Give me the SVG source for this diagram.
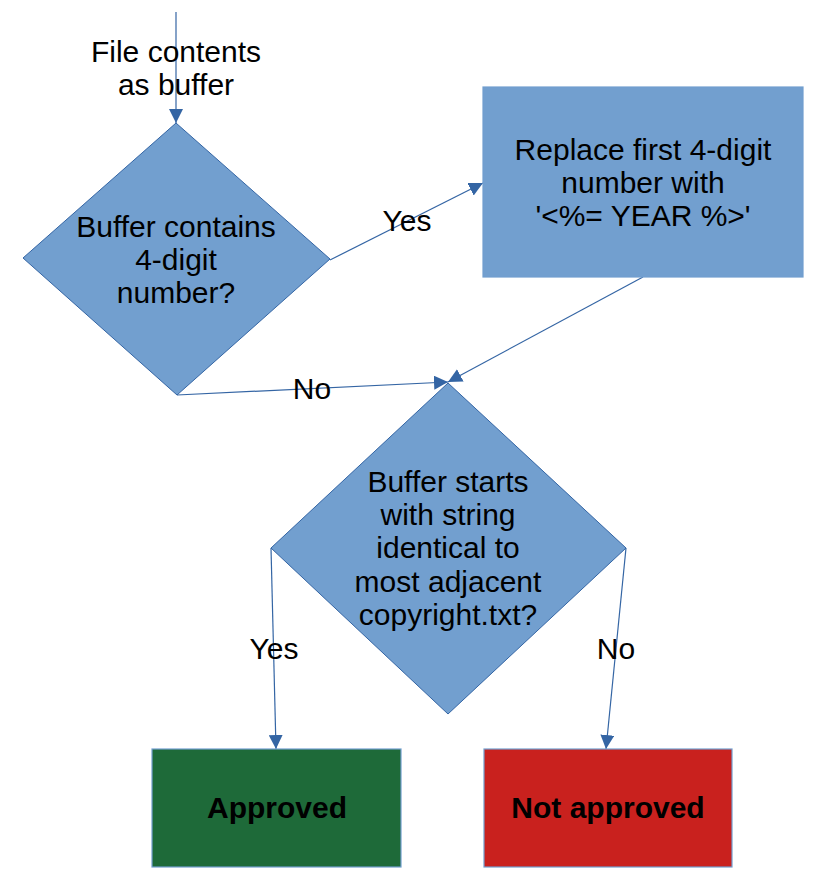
<svg xmlns="http://www.w3.org/2000/svg" width="824" height="890" viewBox="0 0 824 890">
<style>
.shape{fill:#729fcf;stroke:#3465a4;stroke-width:1}
.box{stroke:#729fcf;stroke-width:1.2}
.t{font-family:"Liberation Sans",Arial,sans-serif;font-size:30px;fill:#000;text-anchor:middle}
.b{font-weight:bold}
.edge{fill:none;stroke:#3465a4;stroke-width:1.2;marker-end:url(#arr)}
</style>
<defs>
<marker id="arr" viewBox="0 0 14 14" refX="14" refY="7" markerWidth="14" markerHeight="14" markerUnits="userSpaceOnUse" orient="auto">
<path d="M0,0 L14,7 L0,14 Z" fill="#3465a4"/>
</marker>
</defs>
<rect width="824" height="890" fill="#fff"/>
<g id="connectors">
<path class="edge" d="M176,12 L176,123"/>
<path class="edge" d="M330,260 L483,183"/>
<path class="edge" d="M643,277 L448,382"/>
<path class="edge" d="M177,395 L448,382"/>
<path class="edge" d="M271,548 L276,749"/>
<path class="edge" d="M626,548 L606,749"/>
</g>
<g id="labels">
<text class="t" x="176" y="62">File contents</text>
<text class="t" x="176" y="95">as buffer</text>
<text class="t" x="407" y="231">Yes</text>
<text class="t" x="312" y="399">No</text>
<text class="t" x="274" y="659">Yes</text>
<text class="t" x="616" y="659">No</text>
</g>
<g id="decision1">
<polygon class="shape" points="176,123 330,259 177,395 23,258"/>
<text class="t" x="176" y="237">Buffer contains</text>
<text class="t" x="176" y="270">4-digit</text>
<text class="t" x="176" y="303">number?</text>
</g>
<g id="replace">
<rect class="shape box" x="483" y="87" width="320" height="190"/>
<text class="t" x="643" y="160">Replace first 4-digit</text>
<text class="t" x="643" y="193">number with</text>
<text class="t" x="643" y="226">'&lt;%= YEAR %&gt;'</text>
</g>
<g id="decision2">
<polygon class="shape" points="448,383 626,548 448,714 271,548"/>
<text class="t" x="448" y="492">Buffer starts</text>
<text class="t" x="448" y="525">with string</text>
<text class="t" x="448" y="558">identical to</text>
<text class="t" x="448" y="592">most adjacent</text>
<text class="t" x="448" y="625">copyright.txt?</text>
</g>
<g id="approved">
<rect class="box" x="152" y="749" width="249" height="118" fill="#1e6a39"/>
<text class="t b" x="277" y="818">Approved</text>
</g>
<g id="notapproved">
<rect class="box" x="484" y="749" width="248" height="118" fill="#c9211e"/>
<text class="t b" x="608" y="818">Not approved</text>
</g>
</svg>
